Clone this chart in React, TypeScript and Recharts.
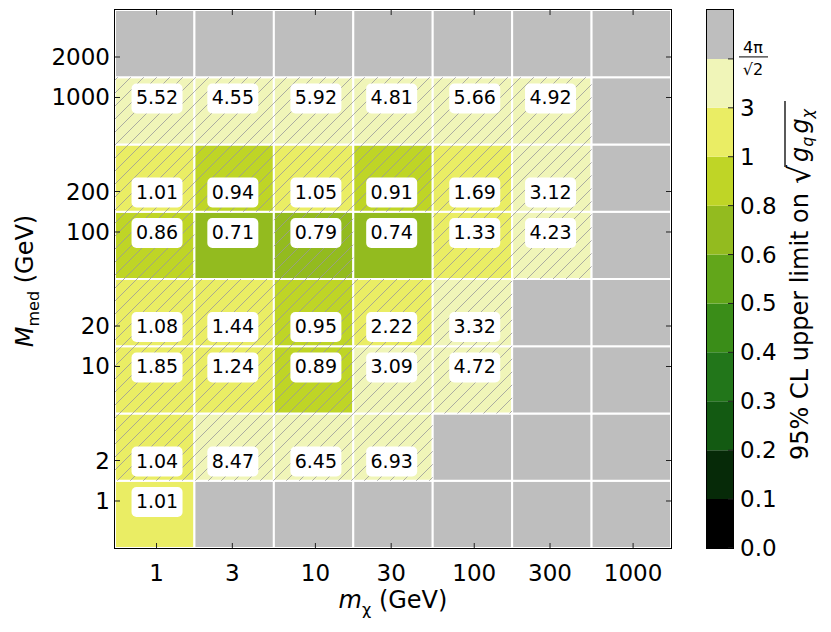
import React from 'react';
import { ComposedChart, BarChart, Bar, XAxis, YAxis, Scatter, ReferenceArea } from 'recharts';

const FONT = '"DejaVu Sans", sans-serif';

// dark matter masses (columns) and mediator masses (rows), GeV
const mChi = [1, 3, 10, 30, 100, 300, 1000];
const mMed = [1, 2, 10, 20, 100, 200, 1000, 2000];
// grid bin edges (half-decade bins around each mass point)
const mChiEdges = [0.5477, 1.732, 5.477, 17.32, 54.77, 173.2, 547.7, 1732];
const mMedEdges = [0.4472, 1.414, 4.472, 14.14, 44.72, 141.4, 447.2, 1414, 4472];

// 95% CL upper limits, one list per mediator mass (null = no point)
const limitMed1 = [1.01, null, null, null, null, null, null];
const limitMed2 = [1.04, 8.47, 6.45, 6.93, null, null, null];
const limitMed10 = [1.85, 1.24, 0.89, 3.09, 4.72, null, null];
const limitMed20 = [1.08, 1.44, 0.95, 2.22, 3.32, null, null];
const limitMed100 = [0.86, 0.71, 0.79, 0.74, 1.33, 4.23, null];
const limitMed200 = [1.01, 0.94, 1.05, 0.91, 1.69, 3.12, null];
const limitMed1000 = [5.52, 4.55, 5.92, 4.81, 5.66, 4.92, null];
const limitMed2000 = [null, null, null, null, null, null, null];
const limits = [limitMed1, limitMed2, limitMed10, limitMed20, limitMed100, limitMed200, limitMed1000, limitMed2000];

// hatched cells, same layout
const hatchMed1 = [0, 0, 0, 0, 0, 0, 0];
const hatchMed2 = [1, 1, 1, 1, 0, 0, 0];
const hatchMed10 = [1, 1, 1, 1, 1, 0, 0];
const hatchMed20 = [1, 1, 1, 1, 1, 0, 0];
const hatchMed100 = [1, 0, 1, 0, 1, 1, 0];
const hatchMed200 = [1, 1, 1, 1, 1, 1, 0];
const hatchMed1000 = [1, 1, 1, 1, 1, 1, 0];
const hatchMed2000 = [0, 0, 0, 0, 0, 0, 0];
const hatches = [hatchMed1, hatchMed2, hatchMed10, hatchMed20, hatchMed100, hatchMed200, hatchMed1000, hatchMed2000];

// colour levels
const levelBounds = [0, 0.1, 0.2, 0.3, 0.4, 0.5, 0.6, 0.8, 1, 3, (4 * Math.PI) / Math.SQRT2];
const levelLabels = ['0.0', '0.1', '0.2', '0.3', '0.4', '0.5', '0.6', '0.8', '1', '3', '4π/√2'];
const levelColors = ['#000000', '#062a08', '#135a12', '#22761a', '#3a8d18', '#62a61a', '#93bb1f', '#bfd526', '#eaed64', '#f0f5b8', '#bebebe'];
const GRAY = '#bebebe';

const colorFor = (v: number | null) => {
  if (v == null) return GRAY;
  let c = levelColors[0];
  levelBounds.forEach((b, i) => {
    if (v >= b) c = levelColors[i];
  });
  return c;
};

const cells = mMed.flatMap((_, j) =>
  mChi.map((__, i) => ({
    x1: mChiEdges[i], x2: mChiEdges[i + 1],
    y1: mMedEdges[j], y2: mMedEdges[j + 1],
    v: limits[j][i], hatch: hatches[j][i] === 1,
  }))
);

const points = mMed.flatMap((m, j) =>
  mChi.map((x, i) => ({ x, y: m, v: limits[j][i] })).filter((p) => p.v != null)
);

const cbRow = [levelColors.reduce((o: any, _, i) => ({ ...o, [`seg${i}`]: 1 }), { name: 'cb' })];

const PLOT = { left: 115, top: 10, right: 671, bottom: 548 };

const XTick = (props: any) => {
  const { x, payload } = props;
  return (
    <g>
      <line x1={x} x2={x} y1={PLOT.bottom} y2={PLOT.bottom - 5} stroke="#222" />
      <line x1={x} x2={x} y1={PLOT.top} y2={PLOT.top + 5} stroke="#222" />
      <text x={x} y={581} textAnchor="middle" fontSize={23} fontFamily={FONT} fill="#000">{payload.value}</text>
    </g>
  );
};

const YTick = (props: any) => {
  const { y, payload } = props;
  return (
    <g>
      <line x1={PLOT.left} x2={PLOT.left + 5} y1={y} y2={y} stroke="#222" />
      <line x1={PLOT.right} x2={PLOT.right - 5} y1={y} y2={y} stroke="#222" />
      <text x={110} y={y + 8} textAnchor="end" fontSize={23} fontFamily={FONT} fill="#000">{payload.value}</text>
    </g>
  );
};

const XTitle = () => (
  <text x={393} y={608} textAnchor="middle" fontSize={24} fontFamily={FONT} fill="#000">
    <tspan fontStyle="italic">m</tspan>
    <tspan fontSize={16} dy={7}>χ</tspan>
    <tspan dy={-7}> (GeV)</tspan>
  </text>
);

const YTitle = () => (
  <text transform="translate(33,281) rotate(-90)" textAnchor="middle" fontSize={24} fontFamily={FONT} fill="#000">
    <tspan fontStyle="italic">M</tspan>
    <tspan fontSize={16} dy={6}>med</tspan>
    <tspan dy={-6}> (GeV)</tspan>
  </text>
);

const CbTick = (props: any) => {
  const { y, payload } = props;
  const label = levelLabels[payload.value];
  return (
    <g>
      <line x1={22} x2={27} y1={y} y2={y} stroke="#222" />
      {label === '4π/√2' ? (
        <g fontFamily={FONT} fill="#000">
          <text x={47} y={y - 6} textAnchor="middle" fontSize={16}>4π</text>
          <line x1={33} x2={62} y1={y - 2} y2={y - 2} stroke="#000" strokeWidth={1} />
          <text x={47} y={y + 16} textAnchor="middle" fontSize={16}>√2</text>
        </g>
      ) : (
        <text x={34} y={y + 8} fontSize={23} fontFamily={FONT} fill="#000">{label}</text>
      )}
    </g>
  );
};

// colorbar title, drawn in a rotated frame (u along the bar, baseline at v = 0)
const CbTitle = () => (
  <g transform="translate(102,279) rotate(-90)" fontFamily={FONT} fill="#000">
    <text x={86} y={0} textAnchor="end" fontSize={24}>95% CL upper limit on</text>
    <text x={95} y={2} fontSize={30}>√</text>
    <line x1={112} x2={178} y1={-23} y2={-23} stroke="#000" strokeWidth={1.3} />
    <text x={117} y={0} fontSize={24} fontStyle="italic">
      <tspan>g</tspan>
      <tspan fontSize={16} dy={5}>q</tspan>
      <tspan dy={-5} dx={3}>g</tspan>
      <tspan fontSize={16} dy={5}>χ</tspan>
    </text>
  </g>
);

const LabelBox = (props: any) => {
  const { cx, cy, payload } = props;
  return (
    <g>
      <rect x={cx - 25} y={cy - 14} width={51} height={30} rx={5} fill="#fff" />
      <text x={cx + 0.5} y={cy + 7} textAnchor="middle" fontSize={19} fontFamily={FONT} fill="#000">
        {payload.v.toFixed(2)}
      </text>
    </g>
  );
};

export default function App() {
  return (
    <div style={{ position: 'relative', width: 831, height: 632, background: '#fff' }}>
      <style>{'body{margin:0}'}</style>
      <div style={{ position: 'absolute', left: 0, top: 0 }}>
        <ComposedChart width={831} height={632} margin={{ top: 10, right: 160, bottom: 0, left: 0 }}>
          <defs>
            <pattern id="hatch" patternUnits="userSpaceOnUse" width={13} height={13}>
              <path d="M0,13 L13,0 M-3,3 L3,-3 M10,16 L16,10" stroke="#999999" strokeWidth={0.8} />
            </pattern>
          </defs>
          <XAxis
            type="number" dataKey="x" scale="log" domain={[mChiEdges[0], mChiEdges[7]]}
            allowDataOverflow ticks={mChi} height={84} axisLine={false} tickLine={false}
            tick={<XTick />} interval={0} label={<XTitle />}
          />
          <YAxis
            type="number" dataKey="y" scale="log" domain={[mMedEdges[0], mMedEdges[8]]}
            allowDataOverflow ticks={mMed} width={115} axisLine={false} tickLine={false}
            tick={<YTick />} interval={0} label={<YTitle />}
          />
          {cells.map((c, k) => (
            <ReferenceArea key={`c${k}`} x1={c.x1} x2={c.x2} y1={c.y1} y2={c.y2}
              fill={colorFor(c.v)} fillOpacity={1} stroke="#fff" strokeWidth={2} ifOverflow="visible" />
          ))}
          {cells.filter((c) => c.hatch).map((c, k) => (
            <ReferenceArea key={`h${k}`} x1={c.x1} x2={c.x2} y1={c.y1} y2={c.y2}
              fill="url(#hatch)" fillOpacity={1} stroke="none" ifOverflow="visible" />
          ))}
          <Scatter data={points} shape={<LabelBox />} isAnimationActive={false} />
        </ComposedChart>
      </div>
      <div style={{ position: 'absolute', left: PLOT.left - 1, top: PLOT.top - 1, width: PLOT.right - PLOT.left + 2, height: PLOT.bottom - PLOT.top + 2, border: '1.5px solid #000', boxSizing: 'border-box', pointerEvents: 'none' }} />
      <div style={{ position: 'absolute', left: 706, top: 0 }}>
        <BarChart width={125} height={632} data={cbRow} margin={{ top: 10, right: 0, bottom: 84, left: 0 }} barCategoryGap={0}>
          <XAxis dataKey="name" hide />
          <YAxis type="number" orientation="right" domain={[0, 11]} ticks={levelLabels.map((_, i) => i)}
            width={98} axisLine={false} tickLine={false} tick={<CbTick />} interval={0} label={<CbTitle />} />
          {levelColors.map((c, i) => (
            <Bar key={i} dataKey={`seg${i}`} stackId="cb" fill={c} isAnimationActive={false} />
          ))}
        </BarChart>
      </div>
      <div style={{ position: 'absolute', left: 706, top: 9, width: 28, height: 540, border: '1.5px solid #000', boxSizing: 'border-box', pointerEvents: 'none' }} />
    </div>
  );
}
